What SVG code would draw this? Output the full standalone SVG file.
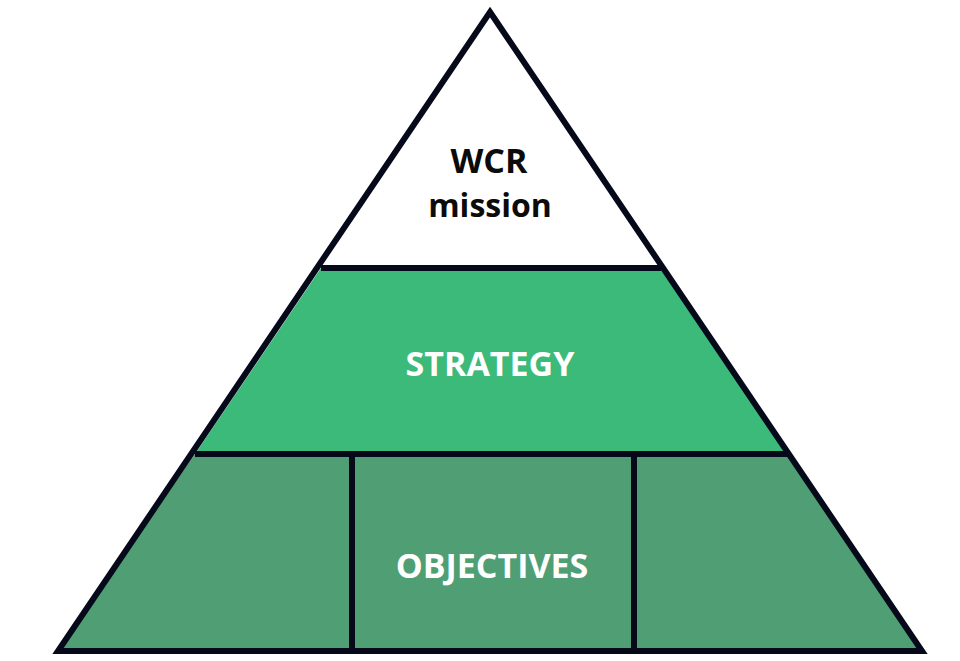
<svg xmlns="http://www.w3.org/2000/svg" width="960" height="661" viewBox="0 0 960 661">
<style>
.ln{stroke:#06091a;stroke-width:6;fill:none;stroke-linejoin:miter}
.t{font-family:"Open Sans","DejaVu Sans",sans-serif;font-weight:bold;font-size:34px;text-anchor:middle}
.w{fill:#ffffff}
.k{fill:#0b0b0b}
</style>
<rect width="960" height="661" fill="#ffffff"/>
<g id="mission">
<polygon points="490,12 321,268 661,268" fill="#ffffff"/>
<text class="t k" x="489" y="173">WCR</text>
<text class="t k" x="490" y="217" style="font-size:32px">mission</text>
</g>
<g id="strategy">
<polygon points="321,268 661,268 787,454 195,454" fill="#3bba7a"/>
<text class="t w" x="490" y="376">STRATEGY</text>
</g>
<g id="objectives">
<polygon points="195,454 787,454 922,651 58,651" fill="#4f9e74"/>
<text class="t w" x="492" y="578">OBJECTIVES</text>
</g>
<g id="connectors">
<polygon class="ln" points="490,12 922,651 58,651"/>
<line class="ln" x1="321" y1="268" x2="661" y2="268"/>
<line class="ln" x1="195" y1="454" x2="787" y2="454"/>
<line class="ln" x1="352" y1="454" x2="352" y2="651"/>
<line class="ln" x1="634" y1="454" x2="634" y2="651"/>
</g>
</svg>
